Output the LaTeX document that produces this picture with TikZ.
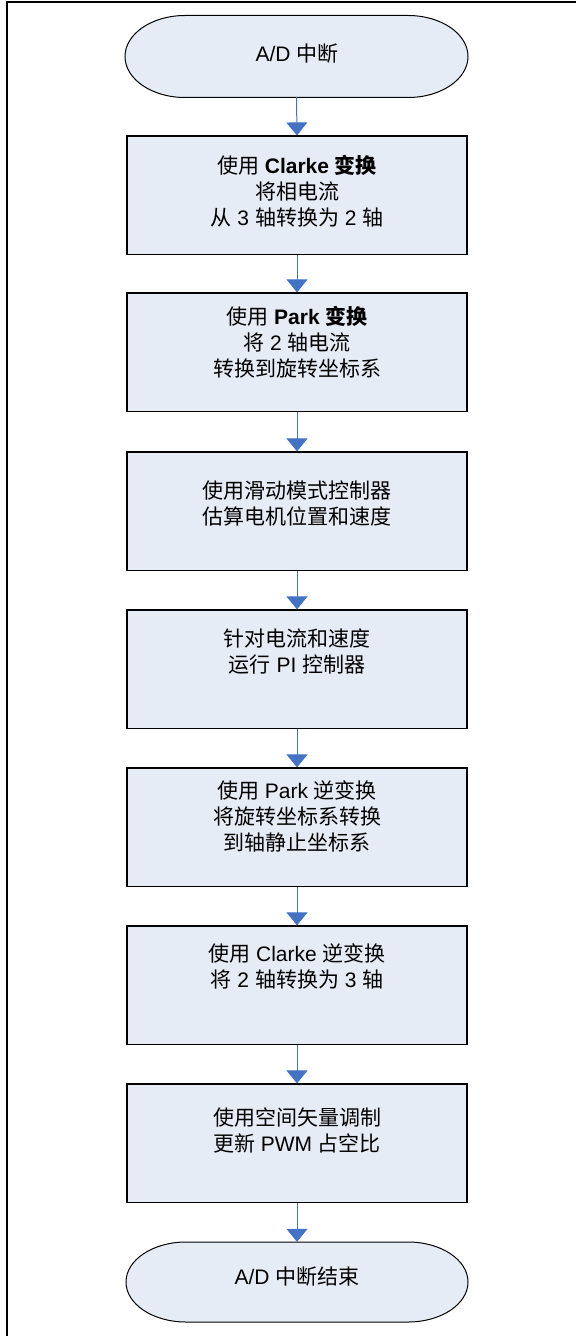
\documentclass[tikz,border=0pt]{standalone}
\usepackage{fontspec}
\setmainfont{Liberation Sans}
\newfontfamily\cjk{Noto Sans CJK SC}
\usetikzlibrary{arrows.meta}
\definecolor{boxfill}{RGB}{230,236,246}
\definecolor{arrowblue}{RGB}{68,114,196}
\begin{document}
\begin{tikzpicture}[x=1bp,y=-1bp,
  stepbox/.style={draw=black,line width=1.2bp,fill=boxfill,minimum width=340bp,minimum height=118.5bp,inner sep=0pt},
  termnode/.style={minimum width=343bp,minimum height=81bp,inner sep=0pt},
  termshape/.style={draw=black,line width=1bp,fill=boxfill},
  txt/.style={align=center,font=\fontsize{21bp}{26bp}\selectfont,inner sep=0pt},
  flow/.style={draw=arrowblue,line width=1bp,-{Triangle[width=21bp,length=13bp]}},
  frame/.style={draw=black,line width=2bp}
]
\useasboundingbox (0,0) rectangle (576,1336);
% page frame
\draw[frame] (6.8,1336) -- (6.8,2.5) -- (576,2.5);

% start terminal
\draw[termshape] (185,15.5) -- (408,15.5)
  arc[start angle=90,end angle=-90,x radius=60bp,y radius=41bp]
  -- (185,97.5)
  arc[start angle=270,end angle=90,x radius=60bp,y radius=41bp] -- cycle;
\node[termnode] (start) at (296.5,56.5) {};
\node[txt] (tstart) at (297,54) {A/D {\cjk 中断}};

% process boxes
\node[stepbox] (b1) at (297,195.25) {};
\node[stepbox] (b2) at (297,352.25) {};
\node[stepbox] (b3) at (297,511.25) {};
\node[stepbox] (b4) at (297,669.25) {};
\node[stepbox] (b5) at (297,827.25) {};
\node[stepbox] (b6) at (297,985.25) {};
\node[stepbox] (b7) at (297,1143.25) {};

% end terminal
\draw[termshape] (186,1242) -- (408,1242)
  arc[start angle=90,end angle=-90,x radius=60bp,y radius=40bp]
  -- (186,1322)
  arc[start angle=270,end angle=90,x radius=60bp,y radius=40bp] -- cycle;
\node[termnode,minimum height=80bp] (end) at (297,1282) {};
\node[txt] (tend) at (297,1277) {A/D {\cjk 中断结束}};

% texts
\node[txt] (t1) at (297,191.5) {{\cjk 使用} \textbf{Clarke {\cjk 变换}}\\{\cjk 将相电流}\\{\cjk 从} 3 {\cjk 轴转换为} 2 {\cjk 轴}};
\node[txt] (t2) at (297,342) {{\cjk 使用} \textbf{Park {\cjk 变换}}\\{\cjk 将} 2 {\cjk 轴电流}\\{\cjk 转换到旋转坐标系}};
\node[txt] (t3) at (297,503.5) {{\cjk 使用滑动模式控制器}\\{\cjk 估算电机位置和速度}};
\node[txt] (t4) at (297,652) {{\cjk 针对电流和速度}\\{\cjk 运行} PI {\cjk 控制器}};
\node[txt] (t5) at (297,816) {{\cjk 使用} Park {\cjk 逆变换}\\{\cjk 将旋转坐标系转换}\\{\cjk 到轴静止坐标系}};
\node[txt] (t6) at (297,966) {{\cjk 使用} Clarke {\cjk 逆变换}\\{\cjk 将} 2 {\cjk 轴转换为} 3 {\cjk 轴}};
\node[txt] (t7) at (297,1130) {{\cjk 使用空间矢量调制}\\{\cjk 更新} PWM {\cjk 占空比}};

% connectors
\draw[flow] (start.south) -- (b1.north);
\draw[flow] (b1.south) -- (b2.north);
\draw[flow] (b2.south) -- (b3.north);
\draw[flow] (b3.south) -- (b4.north);
\draw[flow] (b4.south) -- (b5.north);
\draw[flow] (b5.south) -- (b6.north);
\draw[flow] (b6.south) -- (b7.north);
\draw[flow] (b7.south) -- (end.north);
\end{tikzpicture}
\end{document}
